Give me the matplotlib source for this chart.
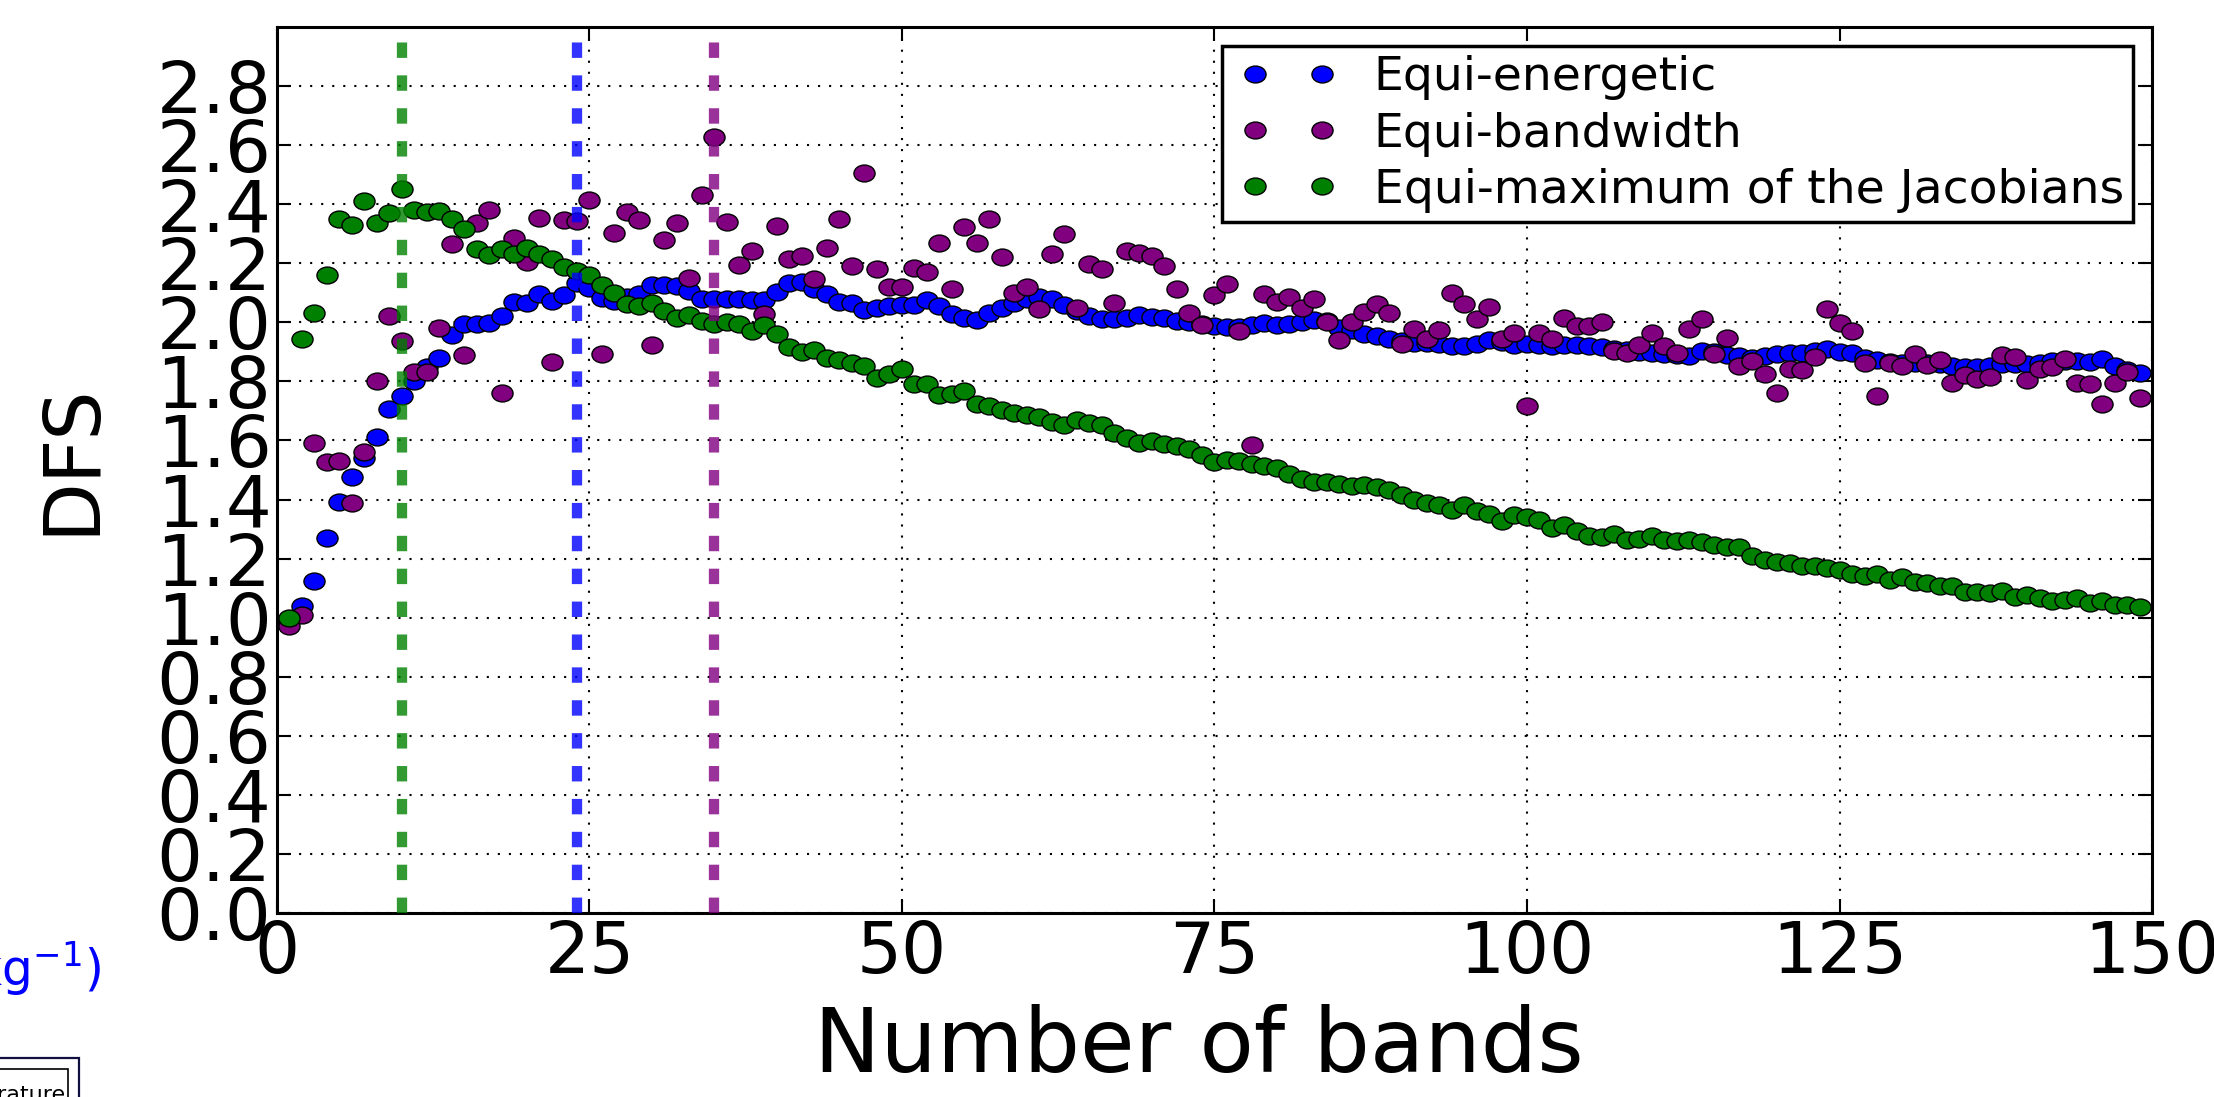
import numpy as np
import matplotlib
matplotlib.use('Agg')
import matplotlib.pyplot as plt
from matplotlib.patches import Rectangle
from matplotlib.path import Path
from matplotlib.transforms import Affine2D
from matplotlib.lines import Line2D
from matplotlib.legend_handler import HandlerLine2D

#%% DFS for each band-selection method, bands 1..149

bands = np.arange(1, 150)

dfs_energetic = [
    0.99, 1.04, 1.125, 1.27, 1.392, 1.476, 1.541, 1.613, 1.708, 1.75,
    1.80, 1.85, 1.878, 1.956, 1.993, 1.993, 1.999, 2.021, 2.069, 2.067,
    2.095, 2.072, 2.091, 2.134, 2.117, 2.084, 2.072, 2.085, 2.095, 2.126,
    2.126, 2.123, 2.106, 2.08, 2.078, 2.08, 2.08, 2.076, 2.076, 2.103,
    2.132, 2.135, 2.112, 2.095, 2.07, 2.065, 2.042, 2.05, 2.056, 2.058,
    2.058, 2.075, 2.056, 2.027, 2.016, 2.008, 2.031, 2.05, 2.065, 2.08,
    2.087, 2.078, 2.059, 2.039, 2.022, 2.01, 2.01, 2.014, 2.024, 2.019,
    2.016, 2.005, 2.001, 1.995, 1.988, 1.983, 1.983, 1.99, 1.997, 1.99,
    1.993, 2.001, 2.008, 2.005, 1.982, 1.974, 1.962, 1.954, 1.945, 1.937,
    1.931, 1.931, 1.926, 1.92, 1.92, 1.926, 1.94, 1.933, 1.922, 1.926,
    1.922, 1.92, 1.922, 1.922, 1.92, 1.916, 1.911, 1.906, 1.9, 1.897,
    1.892, 1.888, 1.887, 1.903, 1.9, 1.888, 1.886, 1.88, 1.886, 1.892,
    1.895, 1.897, 1.903, 1.909, 1.9, 1.895, 1.88, 1.872, 1.866, 1.863,
    1.863, 1.861, 1.858, 1.852, 1.849, 1.849, 1.852, 1.858, 1.858, 1.858,
    1.863, 1.869, 1.869, 1.869, 1.866, 1.875, 1.852, 1.838, 1.827,
]

dfs_bandwidth = [
    0.971, 1.01, 1.592, 1.528, 1.532, 1.389, 1.562, 1.803, 2.021, 1.937,
    1.832, 1.832, 1.982, 2.264, 1.891, 2.335, 2.381, 1.76, 2.287, 2.204,
    2.352, 1.865, 2.346, 2.343, 2.413, 1.894, 2.302, 2.372, 2.346, 1.923,
    2.278, 2.338, 2.151, 2.43, 2.629, 2.341, 2.194, 2.24, 2.027, 2.326,
    2.214, 2.225, 2.146, 2.253, 2.351, 2.191, 2.505, 2.182, 2.121, 2.118,
    2.185, 2.171, 2.267, 2.112, 2.324, 2.27, 2.349, 2.222, 2.098, 2.12,
    2.044, 2.231, 2.298, 2.05, 2.197, 2.18, 2.064, 2.24, 2.234, 2.223,
    2.191, 2.112, 2.033, 1.991, 2.092, 2.13, 1.971, 1.586, 2.097, 2.069,
    2.087, 2.05, 2.078, 2.001, 1.94, 2.002, 2.035, 2.061, 2.033, 1.925,
    1.976, 1.942, 1.974, 2.098, 2.061, 2.01, 2.053, 1.942, 1.965, 1.716,
    1.965, 1.945, 2.016, 1.988, 1.988, 2.001, 1.903, 1.895, 1.922, 1.965,
    1.921, 1.897, 1.976, 2.01, 1.892, 1.946, 1.852, 1.869, 1.824, 1.762,
    1.841, 1.838, 1.884, 2.044, 1.997, 1.971, 1.863, 1.75, 1.863, 1.852,
    1.892, 1.855, 1.872, 1.793, 1.82, 1.807, 1.815, 1.888, 1.884, 1.805,
    1.843, 1.849, 1.875, 1.796, 1.79, 1.725, 1.793, 1.832, 1.745,
]

dfs_jacobians = [
    1.0, 1.942, 2.03, 2.16, 2.35, 2.33, 2.41, 2.338, 2.37, 2.453,
    2.381, 2.372, 2.377, 2.349, 2.317, 2.247, 2.228, 2.247, 2.23, 2.25,
    2.23, 2.216, 2.189, 2.174, 2.16, 2.126, 2.098, 2.061, 2.055, 2.064,
    2.038, 2.016, 2.024, 2.004, 1.996, 2.0, 1.993, 1.971, 1.99, 1.959,
    1.918, 1.901, 1.906, 1.88, 1.872, 1.863, 1.852, 1.812, 1.824, 1.843,
    1.792, 1.79, 1.753, 1.756, 1.767, 1.725, 1.716, 1.703, 1.694, 1.686,
    1.68, 1.662, 1.654, 1.671, 1.658, 1.651, 1.626, 1.609, 1.592, 1.598,
    1.587, 1.581, 1.572, 1.552, 1.526, 1.533, 1.53, 1.522, 1.515, 1.507,
    1.488, 1.47, 1.459, 1.46, 1.454, 1.447, 1.448, 1.442, 1.432, 1.415,
    1.398, 1.389, 1.38, 1.366, 1.38, 1.36, 1.352, 1.329, 1.346, 1.341,
    1.33, 1.302, 1.315, 1.293, 1.276, 1.272, 1.284, 1.262, 1.268, 1.276,
    1.263, 1.26, 1.264, 1.255, 1.247, 1.238, 1.24, 1.21, 1.197, 1.189,
    1.185, 1.176, 1.176, 1.168, 1.163, 1.148, 1.142, 1.148, 1.129, 1.137,
    1.12, 1.117, 1.106, 1.106, 1.086, 1.087, 1.084, 1.089, 1.07, 1.078,
    1.067, 1.058, 1.061, 1.067, 1.05, 1.055, 1.044, 1.044, 1.036,
]

series_labels = ['Equi-energetic', 'Equi-bandwidth', 'Equi-maximum of the Jacobians']
series_colors = ['b', 'purple', 'g']

# chosen number of bands for each method
chosen_bands = [10, 24, 35]
chosen_colors = ['g', 'b', 'purple']

#%% Plot

# slightly flattened circle marker
circ = Path.unit_circle()
oval = Path(Affine2D().scale(1.0, 0.8).transform(circ.vertices), circ.codes)

fig = plt.figure(figsize=(22.14, 10.97), dpi=100)

# bits of the neighbouring panel that end up in the crop
fig.text(0.0455, 0.101, r'(g kg$^{-1})$', color='b', fontsize=35,
         ha='right', va='baseline')
fig.patches.append(Rectangle((-0.01, -0.01), 0.0457, 0.046, transform=fig.transFigure,
                             fill=False, edgecolor='#101040', lw=1.6))
fig.patches.append(Rectangle((-0.01, -0.01), 0.0407, 0.0354, transform=fig.transFigure,
                             fill=False, edgecolor='k', lw=1.2))
fig.text(0.0295, -0.004, 'Temperature', fontsize=16, ha='right', va='baseline')

ax = fig.add_axes([0.1251, 0.1677, 0.8469, 0.8077])

for vals, c, lab in zip([dfs_energetic, dfs_bandwidth, dfs_jacobians],
                        series_colors, series_labels):
    ax.plot(bands, vals, ls='none', marker=oval, color=c, mec='k', mew=1.0,
            ms=15.2, label=lab)

for b, c in zip(chosen_bands, chosen_colors):
    ax.axvline(b, color=c, lw=7.4, ls='--', dashes=(1.5, 1.7), alpha=0.8, zorder=3)

ax.set_xlim(0, 150)
ax.set_ylim(0, 3.0)
ax.set_xticks(range(0, 151, 25))
yt = np.arange(0, 2.81, 0.2)
ax.set_yticks(yt)
ax.set_yticklabels(['%.1f' % v for v in yt])

ax.grid(True, color='k', lw=1.5, ls=(0, (1, 4.3)))
ax.tick_params(direction='in', length=10, width=1.5, top=True, right=True, labelsize=51)
ax.tick_params(axis='y', labelsize=52)
ax.tick_params(axis='x', pad=4)
ax.tick_params(axis='y', pad=4)
for s in ax.spines.values():
    s.set_linewidth(2.2)

ax.set_xlabel('Number of bands', fontsize=64, labelpad=12)
ax.xaxis.label.set_x(0.4915)
ax.set_ylabel('DFS', fontsize=56, labelpad=34)
ax.yaxis.label.set_y(0.513)

leg = ax.legend(loc='upper right', numpoints=2, fontsize=34, fancybox=False,
                framealpha=1, edgecolor='k', borderaxespad=0.4, handlelength=2.4,
                handletextpad=0.6, labelspacing=0.24, borderpad=0.2,
                handler_map={Line2D: HandlerLine2D(marker_pad=0.5, numpoints=2)})
leg.get_frame().set_linewidth(2.5)

fig.savefig('out.png', dpi=100)
